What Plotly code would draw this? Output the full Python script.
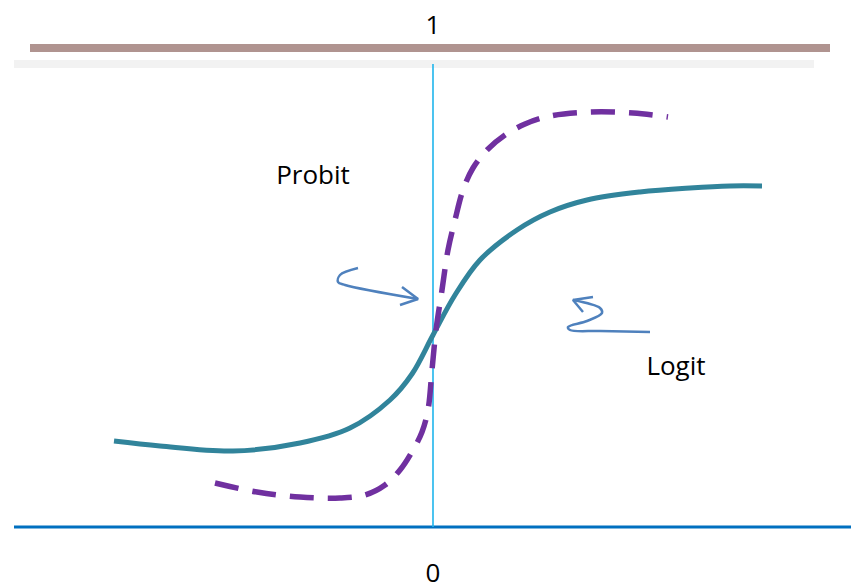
import plotly.graph_objects as go

# curve points (pixel space, y grows downward)
logit_x = [114, 160, 233, 300, 350, 390, 412, 433, 455, 480, 517, 550, 587, 640, 690, 730, 762]
logit_y = [441, 446, 451, 443, 428, 400, 374, 335, 295, 260, 230, 212, 200, 192, 188, 186, 186]

probit_x = [215, 257, 300, 340, 365, 385, 400, 413, 422, 428, 432, 436, 442, 448, 455, 463, 473, 487, 505, 525, 550, 590, 633, 668]
probit_y = [483, 492, 497, 498, 495, 485, 470, 450, 432, 410, 370, 330, 290, 250, 220, 190, 168, 150, 135, 124, 116, 112, 113, 117]

# hand drawn arrows: stroke + head
arrow_l_x = [358, 340, 338, 345, 418]
arrow_l_y = [268, 275, 282, 285, 299]
head_l_x = [402, 418, 400]
head_l_y = [287, 299, 305]
arrow_r_x = [650, 600, 570, 568, 587, 602, 600, 573]
arrow_r_y = [332, 331, 330, 327, 321, 313, 308, 300]
head_r_x = [593, 573, 583]
head_r_y = [297, 300, 312]

# reference lines
top_x, top_y = [30, 830], [48, 48]
band_x, band_y = [14, 814], [64, 64]
base_x, base_y = [14, 851], [527, 527]
mid_x, mid_y = [433, 433], [64, 527]

labels = ["1", "Probit", "Logit", "0"]
label_x = [433, 313, 676, 433]
label_y = [27, 177, 368, 575]

fig = go.Figure()

def line(x, y, color, width, dash="solid", shape="linear"):
    fig.add_trace(go.Scatter(x=x, y=y, mode="lines", hoverinfo="skip",
                             line=dict(color=color, width=width, dash=dash, shape=shape)))

line(band_x, band_y, "#f2f2f2", 8)
line(top_x, top_y, "#b09490", 8)
line(base_x, base_y, "#0070c0", 3)
line(mid_x, mid_y, "#1fb5ec", 1.6)
line(logit_x, logit_y, "#31849b", 5, shape="spline")
line(probit_x, probit_y, "#7030a0", 5.5, dash="24px,14px", shape="spline")
line(arrow_l_x, arrow_l_y, "#4f81bd", 2.5, shape="spline")
line(head_l_x, head_l_y, "#4f81bd", 2.5)
line(arrow_r_x, arrow_r_y, "#4f81bd", 2.5, shape="spline")
line(head_r_x, head_r_y, "#4f81bd", 2.5)

fig.add_trace(go.Scatter(x=label_x, y=label_y, mode="text", text=labels, hoverinfo="skip",
                         cliponaxis=False,
                         textfont=dict(family="Open Sans", size=26, color="#000000")))

fig.update_layout(
    width=851, height=588,
    margin=dict(l=0, r=0, t=0, b=0),
    paper_bgcolor="white", plot_bgcolor="white",
    showlegend=False,
    xaxis=dict(range=[0, 851], visible=False, fixedrange=True),
    yaxis=dict(range=[588, 0], visible=False, fixedrange=True),
)

fig.write_html("out.html", config={"displayModeBar": False},
               post_script="document.body.style.margin='0';")
